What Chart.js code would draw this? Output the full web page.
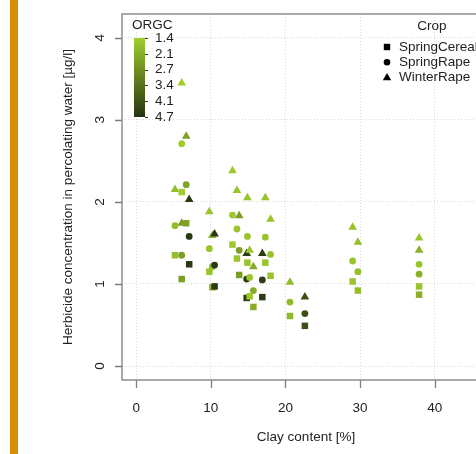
<!DOCTYPE html>
<html>
<head>
<meta charset="utf-8">
<script src="https://cdn.jsdelivr.net/npm/chart.js@4.4.0/dist/chart.umd.min.js"></script>
<style>
  html, body { margin: 0; padding: 0; background: #fff; overflow: hidden; }
  #wrap { width: 520px; height: 454px; }
</style>
</head>
<body>
<div id="wrap"><canvas id="chart" width="520" height="454"></canvas></div>
<script>
// Sites: clay content [%] and organic carbon (ORGC)
const clay = [5.2, 6.1, 6.1, 6.7, 7.1, 9.8, 10.2, 10.5, 12.9, 13.5, 13.8, 14.9,
              14.8, 15.2, 15.7, 16.9, 17.3, 18.0, 20.6, 22.6, 29.0, 29.7, 37.9, 37.9];
const orgc = [1.7, 1.4, 2.4, 2.3, 4.6, 1.6, 1.8, 4.6, 1.5, 1.6, 2.4, 1.6,
              4.5, 1.5, 2.1, 4.5, 1.6, 1.6, 1.8, 4.1, 1.6, 1.7, 1.6, 2.0];

// Herbicide concentration [µg/l] per crop at each site
const springCereal = [1.35, 2.12, 1.06, 1.74, 1.24, 1.15, 0.96, 0.97, 1.48, 1.31, 1.11, 1.26,
                      0.83, 0.85, 0.72, 0.84, 1.26, 1.10, 0.61, 0.49, 1.03, 0.92, 0.97, 0.87];
const springRape   = [1.71, 2.71, 1.35, 2.21, 1.58, 1.43, 1.21, 1.23, 1.84, 1.67, 1.41, 1.58,
                      1.06, 1.08, 0.92, 1.05, 1.57, 1.36, 0.78, 0.64, 1.28, 1.15, 1.24, 1.12];
const winterRape   = [2.15, 3.45, 1.74, 2.80, 2.03, 1.88, 1.59, 1.61, 2.38, 2.14, 1.83, 2.05,
                      1.37, 1.41, 1.21, 1.37, 2.05, 1.79, 1.02, 0.84, 1.69, 1.51, 1.56, 1.41];

const xTicks = [0, 10, 20, 30, 40];
const yTicks = [0, 1, 2, 3, 4];
const orgcTicks = ["1.4", "2.1", "2.7", "3.4", "4.1", "4.7"];
const cropNames = ["SpringCereal", "SpringRape", "WinterRape"];

const FONT = '"Liberation Sans", Arial, sans-serif';
const TEXT = '#222';

// light -> dark green ramp for ORGC
const light = [160, 205, 45], dark = [38, 52, 16];
function orgcColor(v) {
  const t = Math.min(1, Math.max(0, (v - 1.4) / 3.3));
  const c = light.map((l, i) => Math.round(l + (dark[i] - l) * t));
  return `rgb(${c.join(",")})`;
}

function points(vals) {
  return clay.map((c, i) => ({ x: c, y: vals[i] }));
}

const colors = orgc.map(orgcColor);

function drawSymbol(ctx, style, x, y) {
  ctx.beginPath();
  if (style === 'rect') {
    ctx.rect(x - 3.2, y - 3.2, 6.4, 6.4);
  } else if (style === 'circle') {
    ctx.arc(x, y, 3.3, 0, Math.PI * 2);
  } else {
    ctx.moveTo(x, y - 4.6);
    ctx.lineTo(x + 4.2, y + 2.6);
    ctx.lineTo(x - 4.2, y + 2.6);
    ctx.closePath();
  }
  ctx.fill();
}

// R-like frame, ticks and the two legends
const rFrame = {
  id: 'rFrame',
  beforeDraw(chart) {
    const ctx = chart.ctx;
    ctx.save();
    ctx.fillStyle = '#fff';
    ctx.fillRect(0, 0, chart.width, chart.height);
    ctx.fillStyle = '#d48f06';
    ctx.fillRect(10, 0, 8, chart.height);
    ctx.restore();
  },
  afterDraw(chart) {
    const { ctx, chartArea: a, scales: { x, y } } = chart;
    ctx.save();

    // box
    ctx.strokeStyle = '#7d7d7d';
    ctx.lineWidth = 1.3;
    ctx.strokeRect(a.left, a.top, a.right - a.left, a.bottom - a.top);

    // tick marks
    ctx.beginPath();
    xTicks.forEach(v => {
      const px = Math.round(x.getPixelForValue(v)) + 0.5;
      ctx.moveTo(px, a.bottom);
      ctx.lineTo(px, a.bottom + 8);
    });
    yTicks.forEach(v => {
      const py = Math.round(y.getPixelForValue(v)) + 0.5;
      ctx.moveTo(a.left - 7, py);
      ctx.lineTo(a.left, py);
    });
    ctx.stroke();

    // rotated y tick labels
    ctx.fillStyle = TEXT;
    ctx.font = `13.5px ${FONT}`;
    ctx.textAlign = 'center';
    ctx.textBaseline = 'middle';
    yTicks.forEach(v => {
      ctx.save();
      ctx.translate(100, y.getPixelForValue(v));
      ctx.rotate(-Math.PI / 2);
      ctx.fillText(String(v), 0, 0);
      ctx.restore();
    });

    // ORGC legend
    ctx.textAlign = 'left';
    ctx.fillText('ORGC', 132, 25);
    const barTop = 38, barBot = 117;
    const grad = ctx.createLinearGradient(0, barTop, 0, barBot);
    grad.addColorStop(0, orgcColor(1.4));
    grad.addColorStop(1, orgcColor(4.7));
    ctx.fillStyle = grad;
    ctx.fillRect(134, barTop, 11, barBot - barTop);
    ctx.strokeStyle = '#333';
    ctx.lineWidth = 1;
    ctx.fillStyle = TEXT;
    const step = (barBot - barTop) / (orgcTicks.length - 1);
    orgcTicks.forEach((t, i) => {
      const py = barTop + i * step;
      ctx.beginPath();
      ctx.moveTo(145, Math.round(py) + 0.5);
      ctx.lineTo(148, Math.round(py) + 0.5);
      ctx.stroke();
      ctx.fillText(t, 155, py);
    });

    // Crop legend
    ctx.textAlign = 'center';
    ctx.fillText('Crop', 432, 26);
    ctx.textAlign = 'left';
    const styles = ['rect', 'circle', 'triangle'];
    cropNames.forEach((name, i) => {
      const py = 47 + i * 15.3;
      ctx.fillStyle = '#000';
      drawSymbol(ctx, styles[i], 387, py);
      ctx.fillStyle = TEXT;
      ctx.fillText(name, 399, py);
    });

    ctx.restore();
  }
};

const gridOpts = { color: '#d9d9d9', lineWidth: 1, drawTicks: false };
const borderOpts = { display: false, dash: [1, 2] };

new Chart(document.getElementById('chart'), {
  type: 'scatter',
  data: {
    datasets: [
      { label: cropNames[0], data: points(springCereal), pointStyle: 'rect', pointRadius: 4.6,
        pointBackgroundColor: colors, pointBorderWidth: 0 },
      { label: cropNames[1], data: points(springRape), pointStyle: 'circle', pointRadius: 3.4,
        pointBackgroundColor: colors, pointBorderWidth: 0 },
      { label: cropNames[2], data: points(winterRape), pointStyle: 'triangle', pointRadius: 5,
        pointBackgroundColor: colors, pointBorderWidth: 0 }
    ]
  },
  options: {
    responsive: false,
    animation: false,
    events: [],
    layout: { padding: { left: 0, top: 14, right: 30, bottom: 0 } },
    plugins: { legend: { display: false }, tooltip: { enabled: false } },
    scales: {
      x: {
        type: 'linear', min: -1.9, max: 47.4,
        afterBuildTicks: s => { s.ticks = xTicks.map(v => ({ value: v })); },
        afterFit: s => { s.height = 74; },
        grid: gridOpts,
        border: borderOpts,
        ticks: { color: TEXT, font: { family: FONT, size: 13.5 }, padding: 20, maxRotation: 0, autoSkip: false },
        title: { display: true, text: 'Clay content [%]', color: TEXT,
                 font: { family: FONT, size: 13.5 }, padding: { top: 0, bottom: 9 } }
      },
      y: {
        type: 'linear', min: -0.17, max: 4.29,
        afterBuildTicks: s => { s.ticks = yTicks.map(v => ({ value: v })); },
        afterFit: s => { s.width = 122; },
        grid: gridOpts,
        border: borderOpts,
        ticks: { display: false },
        title: { display: true, text: 'Herbicide concentration in percolating water [µg/l]', color: TEXT,
                 font: { family: FONT, size: 13.5 }, padding: { top: 60, bottom: 0 } }
      }
    }
  },
  plugins: [rFrame]
});
</script>
</body>
</html>
